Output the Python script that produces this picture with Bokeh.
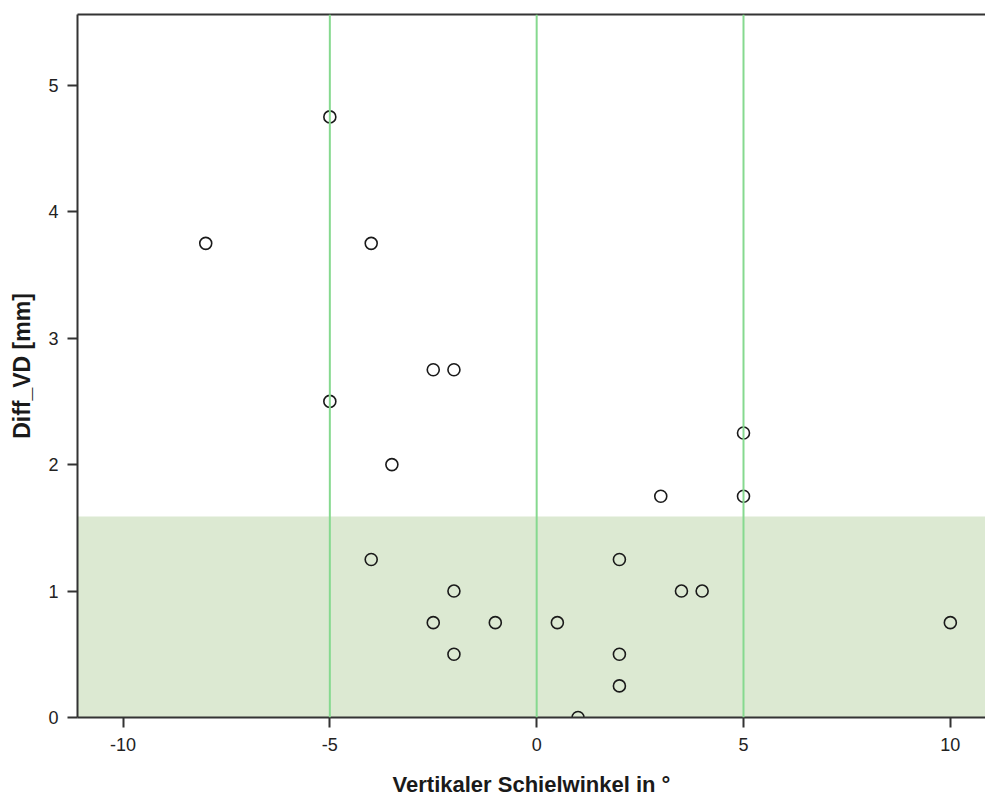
from bokeh.plotting import figure
from bokeh.models import Range1d, LinearAxis, FixedTicker, BoxAnnotation, Span
from bokeh.embed import file_html
from bokeh.resources import INLINE

# Vertical squint angle vs. Diff_VD
schielwinkel = [-8, -5, -4, -5, -2.5, -2, -3.5, -4, -2, -2.5, -1, -2, 0.5, 1,
                2, 2, 2, 3, 3.5, 4, 5, 5, 10]
diff_vd = [3.75, 4.75, 3.75, 2.5, 2.75, 2.75, 2.0, 1.25, 1.0, 0.75, 0.75, 0.5, 0.75, 0.0,
           1.25, 0.5, 0.25, 1.75, 1.0, 1.0, 2.25, 1.75, 0.75]

x_ticks = [-10, -5, 0, 5, 10]
y_ticks = [0, 1, 2, 3, 4, 5]
reference_lines = [-5, 0, 5]
band_top = 1.59

FONT = "Liberation Sans"

p = figure(width=985, height=799, output_backend="svg", toolbar_location=None,
           x_range=Range1d(-11.1, 10.85), y_range=Range1d(0, 5.56),
           min_border_left=77, min_border_right=0, min_border_top=14,
           min_border_bottom=82, x_axis_location=None, y_axis_location=None)
p.grid.visible = False
p.outline_line_color = None
p.background_fill_color = "white"
p.border_fill_color = "white"

p.add_layout(BoxAnnotation(bottom=0, top=band_top, fill_color="#dce9d2",
                           fill_alpha=1.0, line_color=None, level="underlay"))
for xv in reference_lines:
    p.add_layout(Span(location=xv, dimension="height", line_color="#86d98f",
                      line_width=2))

p.scatter(schielwinkel, diff_vd, marker="circle", size=12, fill_color=None,
          line_color="#1a1a1a", line_width=1.6)


def style_axis(ax, ticks, label_size):
    ax.axis_line_color = "#333333"
    ax.axis_line_width = 2
    ax.major_tick_line_color = "#333333"
    ax.major_tick_line_width = 2
    ax.major_tick_in = 0
    ax.major_tick_out = 10
    ax.minor_tick_line_color = None
    ax.major_label_overrides = {t: str(t) for t in ticks}
    ax.major_label_text_font = FONT
    ax.major_label_text_font_size = "18px"
    ax.major_label_text_color = "#222222"
    ax.axis_label_text_font = FONT
    ax.axis_label_text_font_size = label_size
    ax.axis_label_text_font_style = "bold"
    ax.axis_label_text_color = "#1a1a1a"


xa = LinearAxis(ticker=FixedTicker(ticks=x_ticks),
                axis_label="Vertikaler Schielwinkel in °")
style_axis(xa, x_ticks, "22px")
xa.major_label_standoff = 10
xa.axis_label_standoff = 18
p.add_layout(xa, "below")

ya = LinearAxis(ticker=FixedTicker(ticks=y_ticks), axis_label="Diff_VD [mm]")
style_axis(ya, y_ticks, "23px")
ya.major_label_standoff = 9
ya.axis_label_standoff = 10
p.add_layout(ya, "left")

top = LinearAxis(ticker=FixedTicker(ticks=[]))
top.axis_line_color = "#333333"
top.axis_line_width = 2
top.major_label_text_font_size = "0px"
top.major_tick_line_color = None
top.minor_tick_line_color = None
p.add_layout(top, "above")

open("out.html", "w").write(file_html(p, INLINE))
